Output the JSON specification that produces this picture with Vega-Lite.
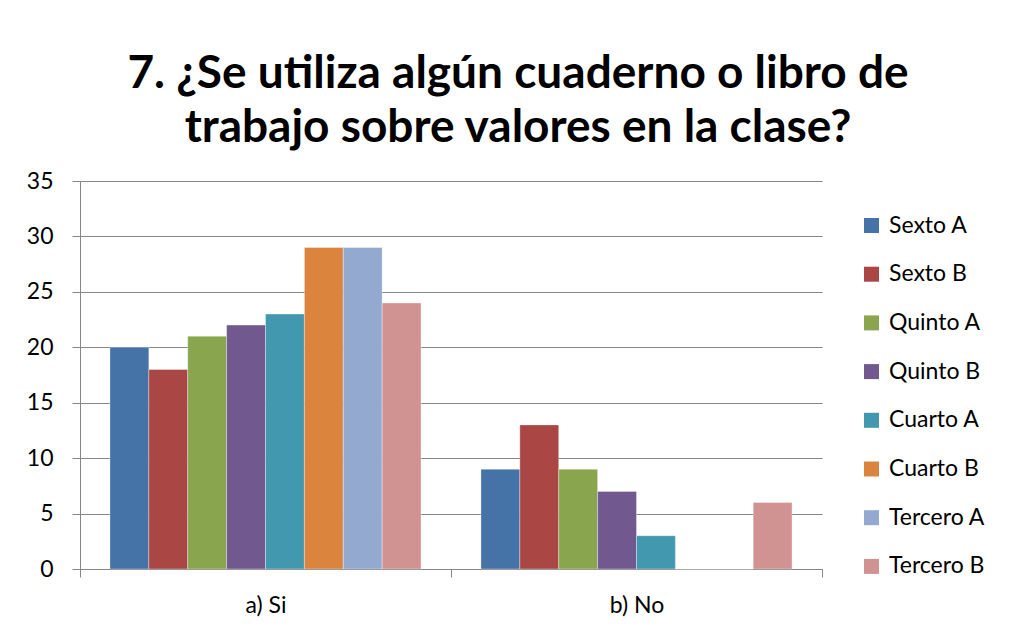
{
  "$schema": "https://vega.github.io/schema/vega-lite/v6.json",
  "width": 742,
  "height": 388,
  "autosize": {"type": "none"},
  "padding": {"left": 80, "top": 181, "right": 191, "bottom": 62},
  "background": "white",
  "title": {
    "text": ["7. ¿Se utiliza algún cuaderno o libro  de", "trabajo sobre valores en la clase?"],
    "font": "Lato",
    "fontSize": 46,
    "fontWeight": "bold",
    "color": "#000000",
    "anchor": "middle",
    "dx": 67,
    "lineHeight": 54,
    "offset": 18
  },
  "data": {
    "values": [
      {"respuesta": "a) Si", "grupo": "Sexto A", "valor": 20},
      {"respuesta": "a) Si", "grupo": "Sexto B", "valor": 18},
      {"respuesta": "a) Si", "grupo": "Quinto A", "valor": 21},
      {"respuesta": "a) Si", "grupo": "Quinto B", "valor": 22},
      {"respuesta": "a) Si", "grupo": "Cuarto A", "valor": 23},
      {"respuesta": "a) Si", "grupo": "Cuarto B", "valor": 29},
      {"respuesta": "a) Si", "grupo": "Tercero A", "valor": 29},
      {"respuesta": "a) Si", "grupo": "Tercero B", "valor": 24},
      {"respuesta": "b) No", "grupo": "Sexto A", "valor": 9},
      {"respuesta": "b) No", "grupo": "Sexto B", "valor": 13},
      {"respuesta": "b) No", "grupo": "Quinto A", "valor": 9},
      {"respuesta": "b) No", "grupo": "Quinto B", "valor": 7},
      {"respuesta": "b) No", "grupo": "Cuarto A", "valor": 3},
      {"respuesta": "b) No", "grupo": "Cuarto B", "valor": 0},
      {"respuesta": "b) No", "grupo": "Tercero A", "valor": 0},
      {"respuesta": "b) No", "grupo": "Tercero B", "valor": 6}
    ]
  },
  "mark": {"type": "bar", "stroke": "#ffffff", "strokeOpacity": 0.5, "strokeWidth": 0.7},
  "encoding": {
    "x": {
      "field": "respuesta",
      "type": "nominal",
      "scale": {"paddingInner": 0, "paddingOuter": 0},
      "axis": {
        "title": null,
        "labelAngle": 0,
        "labelFont": "Lato",
        "labelFontSize": 23,
        "labelColor": "#000000",
        "labelPadding": 17,
        "tickBand": "extent",
        "tickSize": 8,
        "tickColor": "#868686",
        "domainColor": "#868686",
        "grid": false
      }
    },
    "xOffset": {
      "field": "grupo",
      "type": "nominal",
      "sort": ["Sexto A", "Sexto B", "Quinto A", "Quinto B", "Cuarto A", "Cuarto B", "Tercero A", "Tercero B"],
      "scale": {"paddingInner": 0, "paddingOuter": 0.77}
    },
    "y": {
      "field": "valor",
      "type": "quantitative",
      "scale": {"domain": [0, 35], "nice": false},
      "axis": {
        "title": null,
        "values": [0, 5, 10, 15, 20, 25, 30, 35],
        "labelFont": "Lato",
        "labelFontSize": 23,
        "labelColor": "#000000",
        "labelPadding": 19,
        "tickSize": 8,
        "tickColor": "#868686",
        "domainColor": "#868686",
        "gridColor": "#868686",
        "gridWidth": 1
      }
    },
    "color": {
      "field": "grupo",
      "type": "nominal",
      "sort": ["Sexto A", "Sexto B", "Quinto A", "Quinto B", "Cuarto A", "Cuarto B", "Tercero A", "Tercero B"],
      "scale": {
        "domain": ["Sexto A", "Sexto B", "Quinto A", "Quinto B", "Cuarto A", "Cuarto B", "Tercero A", "Tercero B"],
        "range": ["#4572A7", "#AA4643", "#89A54E", "#71588F", "#4198AF", "#DB843D", "#93A9CF", "#D19392"]
      },
      "legend": {
        "title": null,
        "orient": "none",
        "legendX": 780,
        "legendY": 33,
        "symbolType": "square",
        "symbolSize": 225,
        "symbolStrokeWidth": 0,
        "labelFont": "Lato",
        "labelFontSize": 23,
        "labelColor": "#000000",
        "rowPadding": 24.7,
        "labelOffset": 6,
        "padding": 0
      }
    }
  },
  "config": {
    "view": {"stroke": null},
    "axis": {"domainWidth": 1, "tickWidth": 1}
  }
}
